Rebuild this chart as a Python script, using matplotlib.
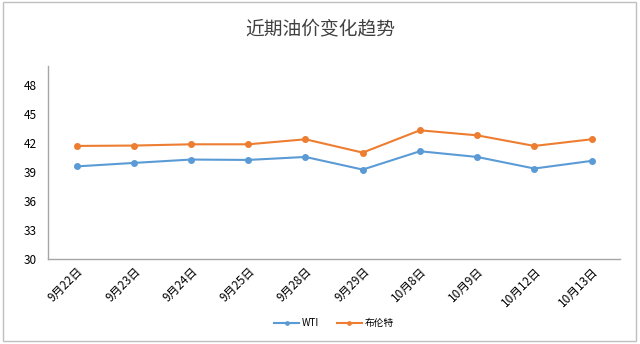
import matplotlib.pyplot as plt
from matplotlib.patches import Rectangle

plt.rcParams['font.family'] = ['Noto Sans CJK SC', 'DejaVu Sans']

dates = ["9月22日", "9月23日", "9月24日", "9月25日", "9月28日",
         "9月29日", "10月8日", "10月9日", "10月12日", "10月13日"]
wti = [39.6, 39.96, 40.31, 40.27, 40.58, 39.27, 41.17, 40.58, 39.38, 40.17]
brent = [41.72, 41.76, 41.89, 41.89, 42.41, 41.03, 43.34, 42.82, 41.72, 42.41]

fig = plt.figure(figsize=(6.4, 3.44), dpi=100)
ax = fig.add_axes([0.075, 0.247, 0.894, 0.561])

x = range(len(dates))
ax.plot(x, wti, color="#5B9BD5", lw=1.5, marker="o", ms=4, label="WTI")
ax.plot(x, brent, color="#ED7D31", lw=1.5, marker="o", ms=4, label="布伦特")

ax.set_xlim(-0.5, len(dates) - 0.5)
ax.set_ylim(30, 50)
ax.set_yticks(range(30, 49, 3))
ax.set_xticks(list(x))
ax.set_xticklabels(dates, rotation=45, ha="right", rotation_mode="anchor", fontsize=8.5)
ax.tick_params(axis="y", labelsize=8.5, length=0, pad=8)
ax.tick_params(axis="x", length=0, pad=4)
for s in ["top", "right"]:
    ax.spines[s].set_visible(False)
for s in ["left", "bottom"]:
    ax.spines[s].set_color("#A6A6A6")
    ax.spines[s].set_linewidth(1)

fig.text(0.5, 0.915, "近期油价变化趋势", ha="center", va="center", fontsize=13.5, color="#404040")
ax.legend(loc="upper center", bbox_to_anchor=(0.5, -0.26), ncol=2, frameon=False,
          fontsize=7, handlelength=2.6, handletextpad=0.3, markerscale=0.6, columnspacing=1.8)

fig.patches.append(Rectangle((0.004, 0.01), 0.99, 0.985, transform=fig.transFigure,
                             fill=False, edgecolor="#BFBFBF", lw=1))

fig.savefig("out.png", dpi=100)
